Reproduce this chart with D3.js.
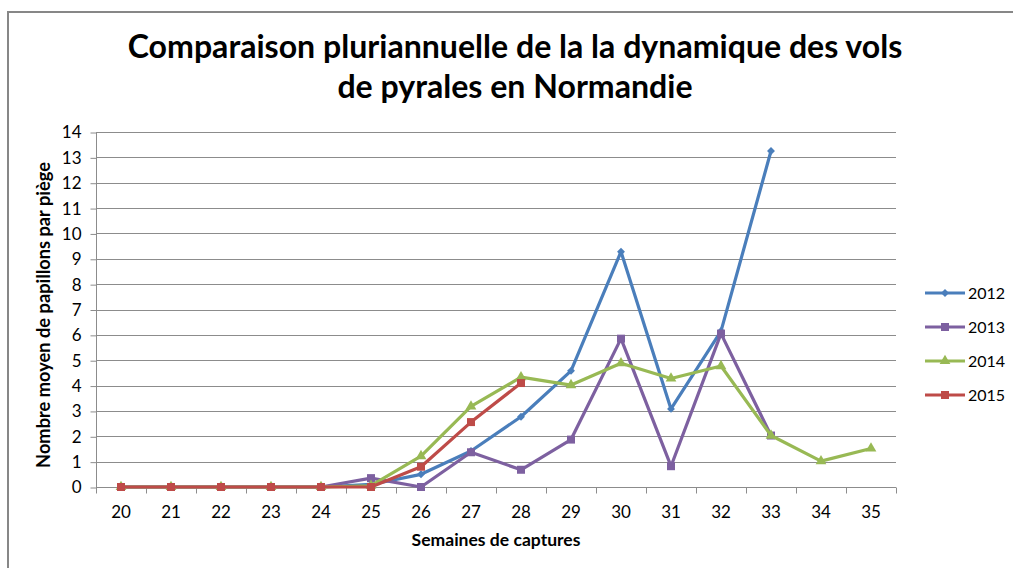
<!DOCTYPE html>
<html>
<head>
<meta charset="utf-8">
<script src="https://d3js.org/d3.v7.min.js"></script>
<style>
  body { margin: 0; background: #fff; }
  svg { display: block; font-family: Lato, "Open Sans", sans-serif; }
</style>
</head>
<body>
<script>
// semaines de capture
var weeks = [20, 21, 22, 23, 24, 25, 26, 27, 28, 29, 30, 31, 32, 33, 34, 35];

// nombre moyen de papillons par piège, une liste par année (null = pas de relevé)
var y2012 = [0, 0, 0, 0, 0, 0.1, 0.5, 1.42, 2.77, 4.58, 9.28, 3.08, 6.15, 13.25, null, null];
var y2013 = [0, 0, 0, 0, 0, 0.35, 0, 1.37, 0.68, 1.87, 5.85, 0.82, 6.05, 2.03, null, null];
var y2014 = [0, 0, 0, 0, 0, 0.05, 1.22, 3.18, 4.33, 4.02, 4.88, 4.28, 4.77, 2.03, 1.02, 1.52];
var y2015 = [0, 0, 0, 0, 0, 0, 0.8, 2.56, 4.1, null, null, null, null, null, null, null];

var yTicks = d3.range(0, 15);

var series = [
  {name: "2012", values: y2012, color: "#4a7ebb", symbol: d3.symbolDiamond2, size: 40},
  {name: "2013", values: y2013, color: "#7d60a0", symbol: d3.symbolSquare, size: 64},
  {name: "2014", values: y2014, color: "#98b954", symbol: d3.symbolTriangle, size: 50},
  {name: "2015", values: y2015, color: "#be4b48", symbol: d3.symbolSquare, size: 64}
];

var W = 1013, H = 568;
var plotL = 96, plotR = 896, plotT = 132, plotB = 487;

var svg = d3.select("body").append("svg")
    .attr("width", W).attr("height", H);

// cadre du graphique
svg.append("path")
    .attr("d", "M8," + H + " V12 H" + W)
    .attr("fill", "none")
    .attr("stroke", "#878787")
    .attr("stroke-width", 2);

var x = d3.scaleBand().domain(weeks).range([plotL, plotR]);
var y = d3.scaleLinear().domain([0, 14]).range([plotB, plotT]);

// quadrillage
svg.append("g").selectAll("line")
    .data(yTicks.slice(1)).enter()
    .append("line")
    .attr("x1", plotL).attr("x2", plotR)
    .attr("y1", function(d) { return Math.round(y(d)) + 0.5; })
    .attr("y2", function(d) { return Math.round(y(d)) + 0.5; })
    .attr("stroke", "#8c8c8c")
    .attr("stroke-width", 1);

// axe Y
var yAxis = svg.append("g")
    .attr("transform", "translate(" + (plotL + 0.5) + ",0.5)")
    .call(d3.axisLeft(y).tickValues(yTicks).tickSize(6).tickPadding(9).tickFormat(d3.format("d")));
yAxis.selectAll("line, path").attr("stroke", "#8c8c8c");
yAxis.selectAll("text").attr("font-size", 17).attr("fill", "#000").attr("font-family", "Lato");
yAxis.select(".domain").attr("d", "M0," + y(14) + "V" + y(0));

// axe X : graduations entre les catégories
var xg = svg.append("g").attr("transform", "translate(0," + (plotB + 0.5) + ")");
xg.append("line")
    .attr("x1", plotL).attr("x2", plotR)
    .attr("stroke", "#8c8c8c");
xg.selectAll("line.tk")
    .data(weeks.concat([null])).enter()
    .append("line")
    .attr("class", "tk")
    .attr("x1", function(d, i) { return Math.round(plotL + i * x.step()) + 0.5; })
    .attr("x2", function(d, i) { return Math.round(plotL + i * x.step()) + 0.5; })
    .attr("y1", 0).attr("y2", 6)
    .attr("stroke", "#8c8c8c");
xg.selectAll("text")
    .data(weeks).enter()
    .append("text")
    .attr("x", function(d) { return x(d) + x.bandwidth() / 2; })
    .attr("y", 30)
    .attr("text-anchor", "middle")
    .attr("font-size", 17)
    .text(function(d) { return d; });

// courbes
var line = d3.line()
    .defined(function(d) { return d.v != null; })
    .x(function(d) { return x(d.w) + x.bandwidth() / 2; })
    .y(function(d) { return y(d.v); });

series.forEach(function(s) {
  var pts = weeks.map(function(w, i) { return {w: w, v: s.values[i]}; });
  var g = svg.append("g");
  g.append("path")
      .datum(pts)
      .attr("d", line)
      .attr("fill", "none")
      .attr("stroke", s.color)
      .attr("stroke-width", 3.2)
      .attr("stroke-linejoin", "round");
  g.selectAll("path.m")
      .data(pts.filter(function(d) { return d.v != null; })).enter()
      .append("path")
      .attr("class", "m")
      .attr("transform", function(d) {
        return "translate(" + (x(d.w) + x.bandwidth() / 2) + "," + y(d.v) + ")";
      })
      .attr("d", d3.symbol().type(s.symbol).size(s.size))
      .attr("fill", s.color);
});

// légende
var leg = svg.append("g").selectAll("g")
    .data(series).enter()
    .append("g")
    .attr("transform", function(d, i) { return "translate(925," + (293 + i * 34) + ")"; });
leg.append("line")
    .attr("x1", 0).attr("x2", 40)
    .attr("stroke", function(d) { return d.color; })
    .attr("stroke-width", 3.2);
leg.append("path")
    .attr("transform", "translate(20,0)")
    .attr("d", function(d) { return d3.symbol().type(d.symbol).size(d.size)(); })
    .attr("fill", function(d) { return d.color; });
leg.append("text")
    .attr("x", 43).attr("y", 6)
    .attr("font-size", 16)
    .text(function(d) { return d.name; });

// titres
function fitText(sel, width) {
  var w = sel.node().getComputedTextLength();
  var fs = parseFloat(sel.attr("font-size"));
  sel.attr("font-size", fs * width / w);
}

var t1 = svg.append("text")
    .attr("x", 515).attr("y", 58)
    .attr("text-anchor", "middle")
    .attr("font-weight", "bold")
    .attr("font-size", 30)
    .text("Comparaison pluriannuelle de la la dynamique des vols");
fitText(t1, 775);
svg.append("text")
    .attr("x", 515).attr("y", 98)
    .attr("text-anchor", "middle")
    .attr("font-weight", "bold")
    .attr("font-size", t1.attr("font-size"))
    .text("de pyrales en Normandie");

var xt = svg.append("text")
    .attr("x", 496).attr("y", 546)
    .attr("text-anchor", "middle")
    .attr("font-weight", "bold")
    .attr("font-size", 14)
    .text("Semaines de captures");
fitText(xt, 169);

var yt = svg.append("text")
    .attr("transform", "translate(50,315) rotate(-90)")
    .attr("text-anchor", "middle")
    .attr("font-weight", "bold")
    .attr("font-size", 14)
    .text("Nombre moyen de papillons par piège");
fitText(yt, 306);
</script>
</body>
</html>
